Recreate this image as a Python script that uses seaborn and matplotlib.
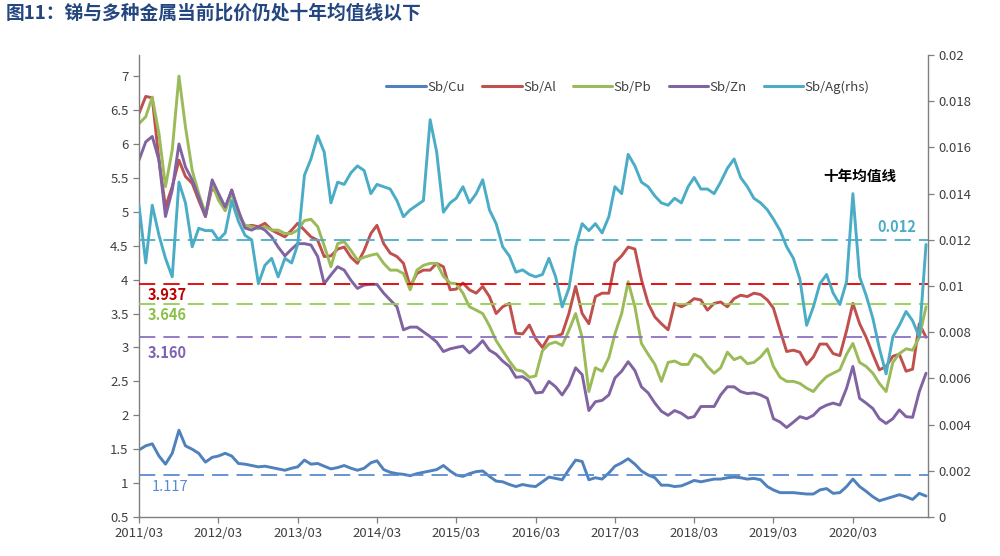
import pandas as pd
import seaborn as sns
import matplotlib.pyplot as plt
import matplotlib.dates as mdates
from matplotlib.lines import Line2D
from matplotlib.ticker import MultipleLocator, FuncFormatter

# monthly readings, 2011/03 .. 2021/02
months = pd.date_range("2011-03-01", periods=120, freq="MS")

sb_cu = [1.49, 1.55, 1.58, 1.40, 1.28, 1.44, 1.78, 1.55, 1.50, 1.44, 1.31, 1.38,
         1.40, 1.44, 1.40, 1.29, 1.28, 1.26, 1.24, 1.25, 1.23, 1.21, 1.19, 1.22,
         1.24, 1.34, 1.28, 1.29, 1.25, 1.21, 1.23, 1.26, 1.22, 1.19, 1.22, 1.30,
         1.33, 1.20, 1.16, 1.14, 1.13, 1.11, 1.14, 1.16, 1.18, 1.20, 1.26, 1.18,
         1.12, 1.10, 1.14, 1.17, 1.18, 1.10, 1.03, 1.02, 0.98, 0.95, 0.98, 0.96,
         0.95, 1.02, 1.09, 1.07, 1.05, 1.20, 1.34, 1.32, 1.05, 1.08, 1.06, 1.15,
         1.25, 1.30, 1.36, 1.28, 1.18, 1.12, 1.08, 0.97, 0.97, 0.95, 0.96, 1.00,
         1.04, 1.02, 1.04, 1.06, 1.06, 1.08, 1.09, 1.08, 1.06, 1.07, 1.05, 0.95,
         0.90, 0.86, 0.86, 0.86, 0.85, 0.84, 0.84, 0.90, 0.92, 0.85, 0.86, 0.95,
         1.06, 0.95, 0.88, 0.80, 0.74, 0.77, 0.80, 0.83, 0.80, 0.76, 0.85, 0.81]

sb_al = [6.45, 6.70, 6.68, 5.76, 5.07, 5.37, 5.76, 5.52, 5.42, 5.17, 4.93, 5.37,
         5.22, 5.02, 5.32, 4.97, 4.78, 4.80, 4.78, 4.83, 4.73, 4.68, 4.63, 4.73,
         4.83, 4.73, 4.63, 4.58, 4.34, 4.35, 4.45, 4.48, 4.33, 4.24, 4.43, 4.68,
         4.80, 4.53, 4.39, 4.34, 4.24, 3.90, 4.09, 4.14, 4.14, 4.24, 4.19, 3.85,
         3.86, 3.95, 3.85, 3.80, 3.90, 3.75, 3.50, 3.60, 3.65, 3.21, 3.20, 3.33,
         3.13, 3.00, 3.16, 3.16, 3.20, 3.50, 3.90, 3.50, 3.35, 3.75, 3.80, 3.80,
         4.25, 4.35, 4.48, 4.45, 4.00, 3.65, 3.45, 3.35, 3.26, 3.65, 3.60, 3.65,
         3.72, 3.70, 3.55, 3.65, 3.67, 3.60, 3.72, 3.77, 3.75, 3.80, 3.78, 3.70,
         3.58, 3.25, 2.94, 2.96, 2.93, 2.75, 2.86, 3.05, 3.05, 2.91, 2.88, 3.25,
         3.65, 3.35, 3.15, 2.90, 2.67, 2.72, 2.87, 2.90, 2.65, 2.68, 3.35, 3.15]

sb_pb = [6.30, 6.40, 6.69, 6.15, 5.37, 5.91, 7.00, 6.25, 5.61, 5.27, 4.97, 5.42,
         5.17, 5.02, 5.27, 4.97, 4.80, 4.78, 4.75, 4.78, 4.73, 4.73, 4.68, 4.68,
         4.73, 4.87, 4.89, 4.78, 4.50, 4.19, 4.53, 4.56, 4.43, 4.29, 4.33, 4.36,
         4.38, 4.24, 4.14, 4.14, 4.09, 3.85, 4.14, 4.21, 4.24, 4.24, 4.05, 3.95,
         3.94, 3.80, 3.60, 3.55, 3.50, 3.32, 3.10, 2.95, 2.80, 2.67, 2.65, 2.56,
         2.58, 2.95, 3.05, 3.08, 3.03, 3.25, 3.50, 3.15, 2.35, 2.70, 2.65, 2.85,
         3.20, 3.50, 3.97, 3.60, 3.06, 2.90, 2.75, 2.50, 2.78, 2.80, 2.75, 2.75,
         2.90, 2.85, 2.72, 2.62, 2.70, 2.93, 2.82, 2.86, 2.76, 2.78, 2.86, 2.98,
         2.72, 2.56, 2.50, 2.50, 2.47, 2.40, 2.35, 2.47, 2.57, 2.62, 2.67, 2.90,
         3.06, 2.78, 2.72, 2.62, 2.47, 2.35, 2.78, 2.91, 2.98, 2.96, 3.15, 3.60]

sb_zn = [5.76, 6.03, 6.11, 5.76, 4.93, 5.32, 6.00, 5.66, 5.47, 5.22, 4.93, 5.47,
         5.27, 5.07, 5.32, 5.02, 4.76, 4.73, 4.78, 4.73, 4.63, 4.48, 4.35, 4.45,
         4.53, 4.53, 4.51, 4.34, 3.94, 4.07, 4.19, 4.14, 3.99, 3.87, 3.92, 3.93,
         3.93, 3.80, 3.70, 3.60, 3.26, 3.30, 3.30, 3.23, 3.16, 3.08, 2.94, 2.98,
         3.00, 3.02, 2.92, 3.00, 3.10, 2.96, 2.90, 2.80, 2.72, 2.56, 2.57, 2.50,
         2.33, 2.34, 2.50, 2.42, 2.30, 2.45, 2.70, 2.60, 2.07, 2.20, 2.22, 2.30,
         2.55, 2.65, 2.79, 2.66, 2.42, 2.33, 2.18, 2.06, 2.00, 2.07, 2.03, 1.96,
         1.98, 2.13, 2.13, 2.13, 2.30, 2.42, 2.42, 2.35, 2.32, 2.33, 2.30, 2.25,
         1.95, 1.90, 1.82, 1.90, 1.98, 1.95, 2.00, 2.10, 2.15, 2.18, 2.15, 2.40,
         2.72, 2.25, 2.18, 2.10, 1.95, 1.88, 1.95, 2.08, 1.98, 1.97, 2.35, 2.62]

sb_ag = [0.0135, 0.0110, 0.0135, 0.0122, 0.0112, 0.0104, 0.0145, 0.0136, 0.0117, 0.0125, 0.0124, 0.0124,
         0.0120, 0.0123, 0.0137, 0.0128, 0.0122, 0.0120, 0.0101, 0.0109, 0.0112, 0.0104, 0.0112, 0.0110,
         0.0118, 0.0148, 0.0155, 0.0165, 0.0158, 0.0136, 0.0145, 0.0144, 0.0149, 0.0152, 0.0150, 0.0140,
         0.0144, 0.0143, 0.0142, 0.0137, 0.0130, 0.0133, 0.0135, 0.0137, 0.0172, 0.0158, 0.0132, 0.0136,
         0.0138, 0.0143, 0.0136, 0.0140, 0.0146, 0.0133, 0.0127, 0.0117, 0.0113, 0.0106, 0.0107, 0.0105,
         0.0104, 0.0105, 0.0112, 0.0104, 0.0091, 0.0099, 0.0117, 0.0127, 0.0124, 0.0127, 0.0123, 0.0130,
         0.0143, 0.0140, 0.0157, 0.0152, 0.0145, 0.0143, 0.0139, 0.0136, 0.0135, 0.0138, 0.0136, 0.0143,
         0.0147, 0.0142, 0.0142, 0.0140, 0.0145, 0.0151, 0.0155, 0.0147, 0.0143, 0.0138, 0.0136, 0.0133,
         0.0129, 0.0124, 0.0117, 0.0112, 0.0103, 0.0083, 0.0091, 0.0101, 0.0105, 0.0097, 0.0092, 0.0102,
         0.0140, 0.0104, 0.0096, 0.0086, 0.0073, 0.0062, 0.0078, 0.0083, 0.0089, 0.0085, 0.0078, 0.0118]

# ten-year averages
avg_cu, avg_al, avg_pb, avg_zn, avg_ag = 1.117, 3.937, 3.646, 3.160, 0.012

names = ["Sb/Cu", "Sb/Al", "Sb/Pb", "Sb/Zn"]
colors = {"Sb/Cu": "#4F81BD", "Sb/Al": "#C0504D", "Sb/Pb": "#9BBB59", "Sb/Zn": "#8064A2"}
ag_color = "#4BACC6"
gray = "#7F7F7F"

df = pd.DataFrame({"date": months, "Sb/Cu": sb_cu, "Sb/Al": sb_al,
                   "Sb/Pb": sb_pb, "Sb/Zn": sb_zn})
long_df = df.melt(id_vars="date", var_name="series", value_name="ratio")

sns.set_style("ticks")
plt.rcParams["font.family"] = ["Noto Sans CJK SC", "DejaVu Sans"]

fig = plt.figure(figsize=(10, 5.56), dpi=100)
ax = fig.add_axes([0.139, 0.070, 0.789, 0.831])
ax2 = ax.twinx()

sns.lineplot(data=long_df, x="date", y="ratio", hue="series", hue_order=names,
             palette=colors, linewidth=2.1, legend=False, ax=ax)
sns.lineplot(x=months, y=sb_ag, color=ag_color, linewidth=2.1, ax=ax2)

# dashed average lines
dash = (9, 4.5)
ax.axhline(avg_al, color="#E00000", lw=1.3, ls=(0, dash), zorder=5)
ax.axhline(avg_pb, color="#92D050", lw=1.3, ls=(0, dash), zorder=5)
ax.axhline(avg_zn, color="#8E72BF", lw=1.3, ls=(0, dash), zorder=5)
ax.axhline(avg_cu, color="#5B8CCF", lw=1.3, ls=(0, dash), zorder=5)
ax2.axhline(avg_ag, color=ag_color, lw=1.3, ls=(0, dash), zorder=5)

t0 = pd.Timestamp("2011-04-10")
ax.text(t0, avg_al - 0.17, f"{avg_al:.3f}", color="#C00000", fontsize=10.5,
        fontweight="bold", va="center", ha="left")
ax.text(t0, avg_pb - 0.17, f"{avg_pb:.3f}", color="#8DBF4A", fontsize=10.5,
        fontweight="bold", va="center", ha="left")
ax.text(t0, avg_zn - 0.24, f"{avg_zn:.3f}", color="#7F62B0", fontsize=10.5,
        fontweight="bold", va="center", ha="left")
ax.text(pd.Timestamp("2011-05-01"), avg_cu - 0.18, f"{avg_cu:.3f}", color="#5B8CCF",
        fontsize=10.5, va="center", ha="left")
ax2.text(pd.Timestamp("2020-12-20"), avg_ag + 0.00055, f"{avg_ag:.3f}", color=ag_color,
         fontsize=10.5, fontweight="bold", va="center", ha="right")
ax.text(pd.Timestamp("2020-04-01"), 5.53, "十年均值线", color="black", fontsize=10.5,
        fontweight="bold", va="center", ha="center")

# axes styling
ax.set_xlim(pd.Timestamp("2011-03-01"), pd.Timestamp("2021-02-10"))
ax.set_ylim(0.5, 7.31)
ax2.set_ylim(0, 0.02)
ax.xaxis.set_major_locator(mdates.MonthLocator(bymonth=3))
ax.xaxis.set_major_formatter(mdates.DateFormatter("%Y/%m"))
ax.yaxis.set_major_locator(MultipleLocator(0.5))
ax.yaxis.set_major_formatter(FuncFormatter(lambda v, p: f"{v:g}"))
ax2.yaxis.set_major_locator(MultipleLocator(0.002))
ax2.yaxis.set_major_formatter(FuncFormatter(lambda v, p: f"{round(v, 4):g}"))
ax.set_xlabel("")
ax.set_ylabel("")
ax2.set_ylabel("")

for a in (ax, ax2):
    a.spines["top"].set_visible(False)
    for s in ("left", "right", "bottom"):
        a.spines[s].set_color(gray)
        a.spines[s].set_linewidth(1.0)
    a.tick_params(colors="#404040", labelsize=9.5, length=4, width=0.9)
    a.tick_params(axis="both", color=gray)
ax.spines["right"].set_visible(False)
ax2.spines["left"].set_visible(False)
ax2.spines["bottom"].set_visible(False)

# legend
handles = [Line2D([], [], color=colors[n], lw=2.2) for n in names]
handles.append(Line2D([], [], color=ag_color, lw=2.2))
labels = names + ["Sb/Ag(rhs)"]
fig.legend(handles, labels, loc="center", bbox_to_anchor=(0.628, 0.843), ncol=5,
           frameon=False, fontsize=9.5, handlelength=3.0, handletextpad=0.1,
           columnspacing=1.3, labelcolor="#404040")

fig.text(0.006, 0.977, "图11：锑与多种金属当前比价仍处十年均值线以下", color="#24477F",
         fontsize=13.5, fontweight="bold", va="center", ha="left")

plt.savefig("out.png", dpi=100)
